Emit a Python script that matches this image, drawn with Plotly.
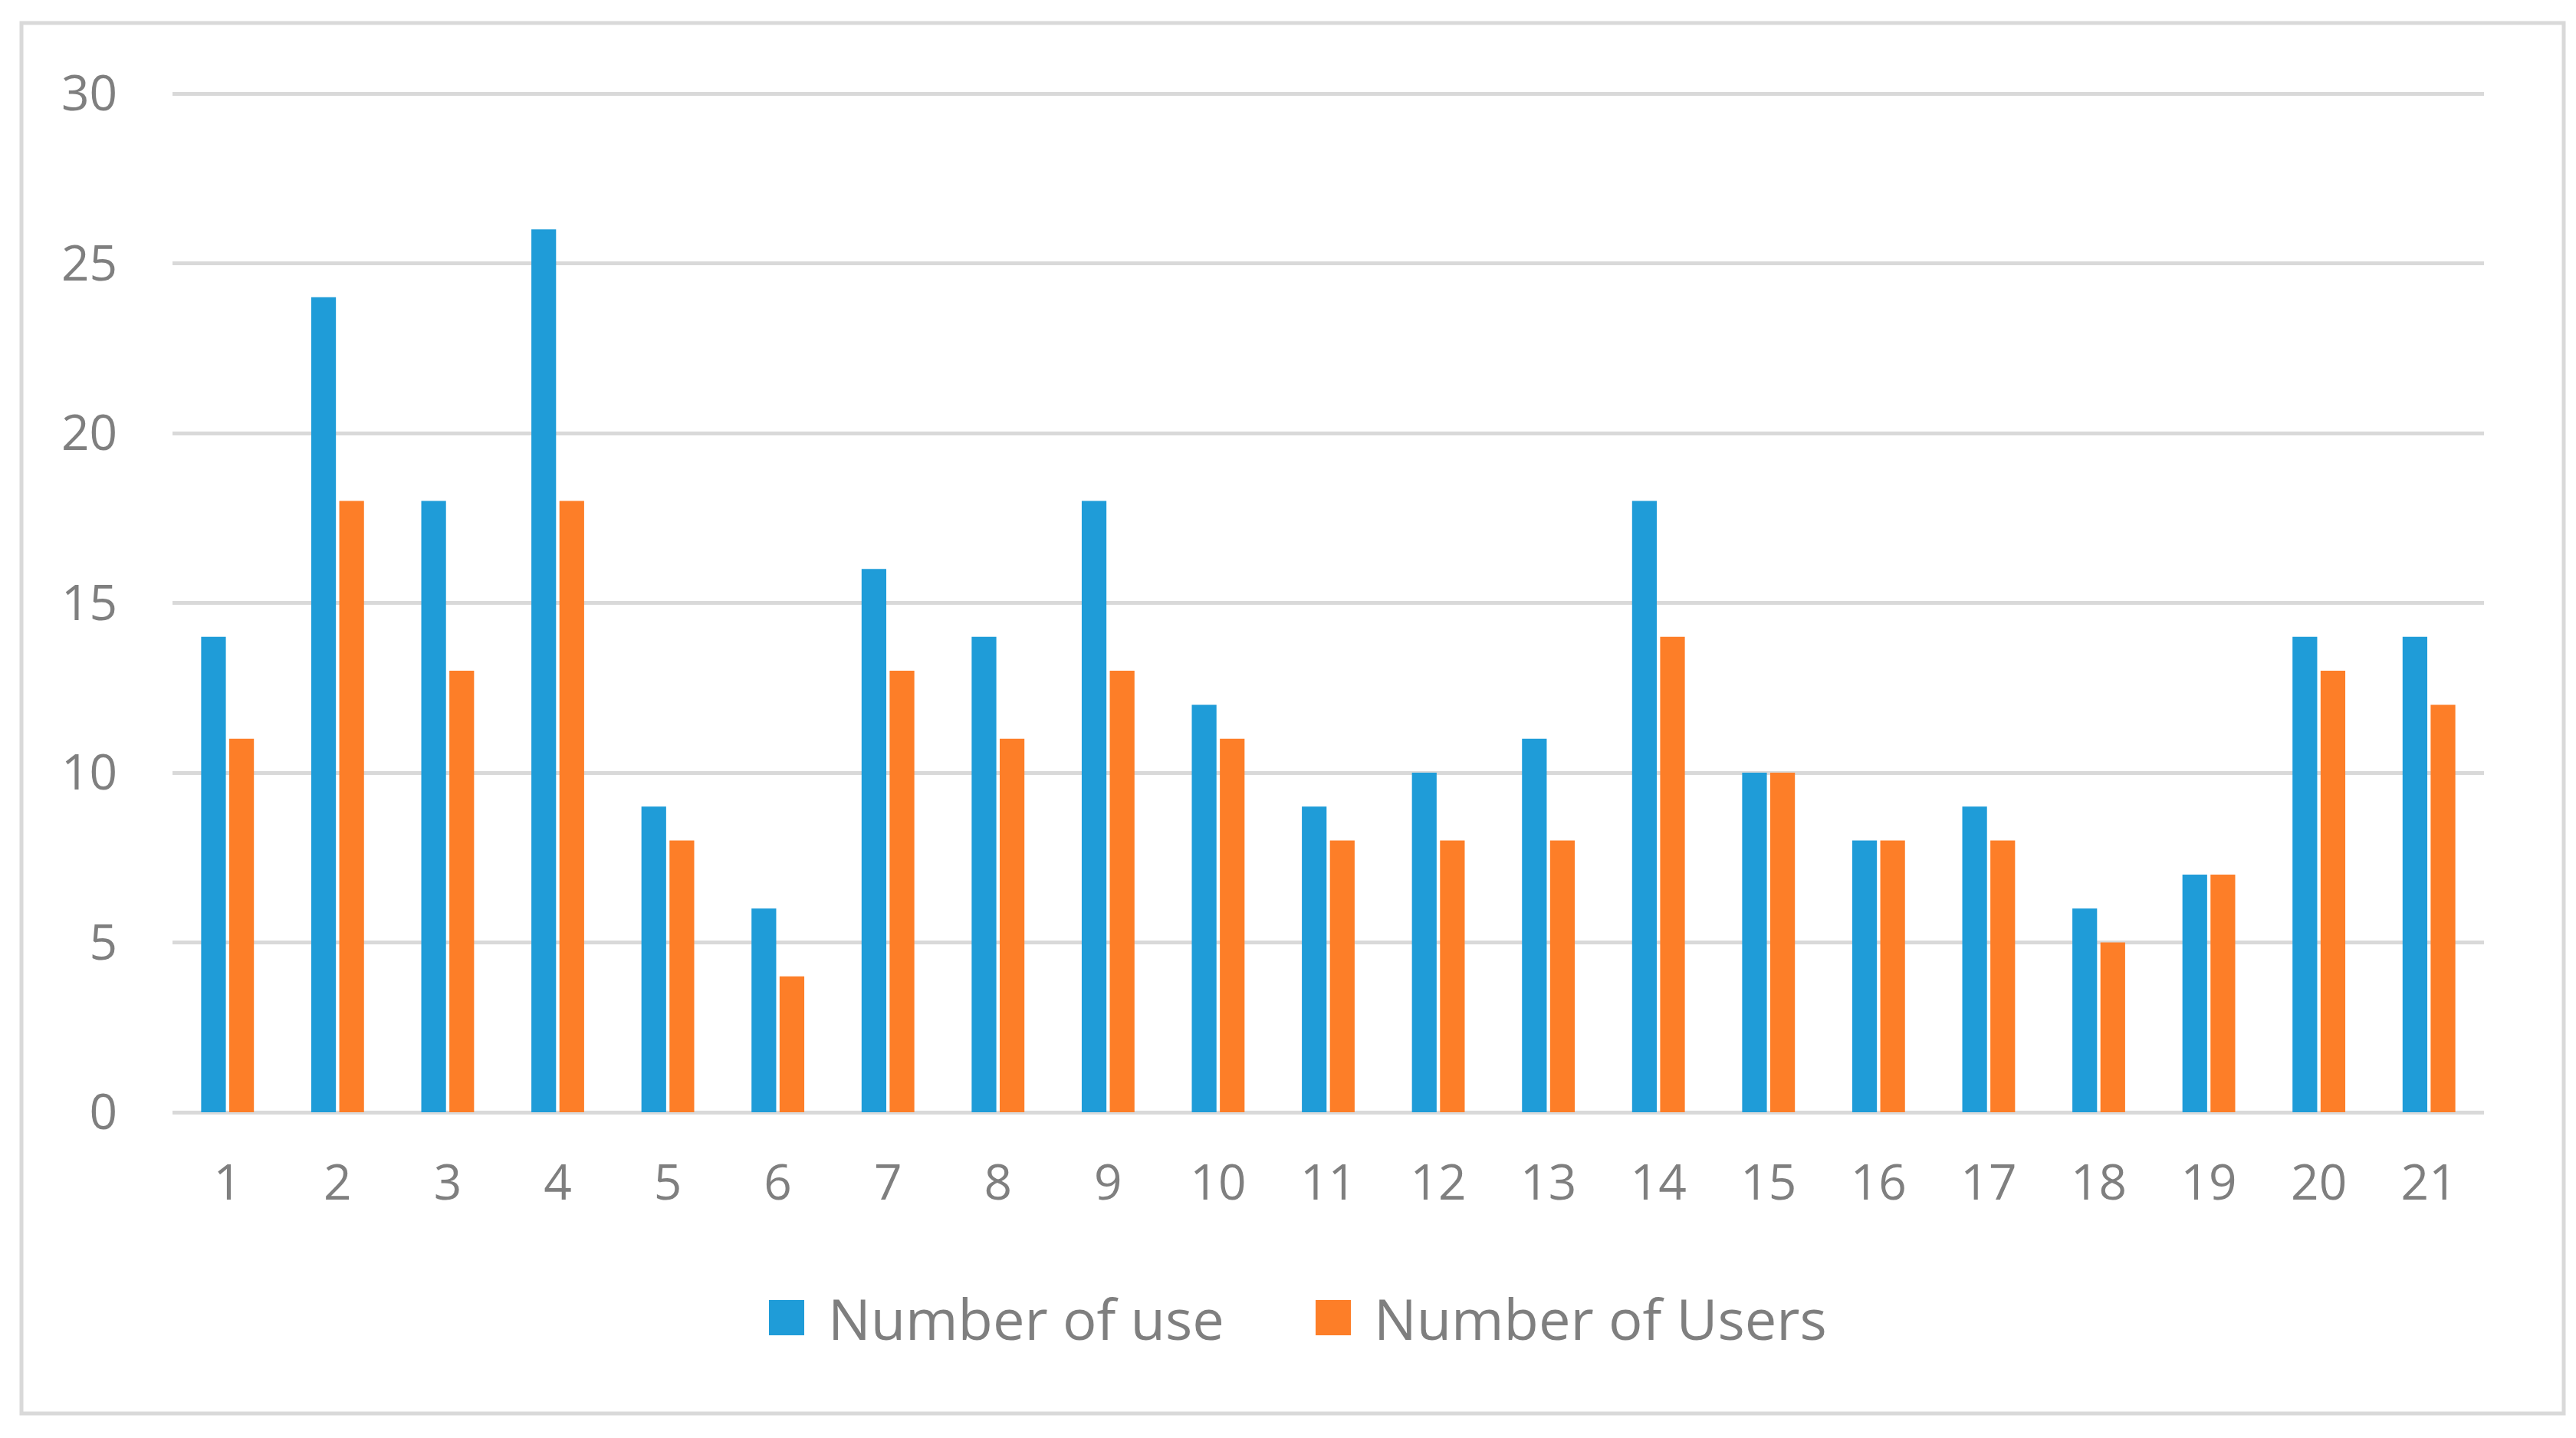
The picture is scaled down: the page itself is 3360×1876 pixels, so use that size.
import plotly.graph_objects as go

# --- data ---
categories = [str(i) for i in range(1, 22)]
number_of_use = [14, 24, 18, 26, 9, 6, 16, 14, 18, 12, 9, 10, 11, 18, 10, 8, 9, 6, 7, 14, 14]
number_of_users = [11, 18, 13, 18, 8, 4, 13, 11, 13, 11, 8, 8, 8, 14, 10, 8, 8, 5, 7, 13, 12]
series_names = ["Number of use", "Number of Users"]
y_ticks = [0, 5, 10, 15, 20, 25, 30]

BLUE = "#1f9cd8"
ORANGE = "#fd7e28"
GRID = "#d9d9d9"
TEXT = "#7f7f7f"
FONT = "Open Sans"

# page has an 8px body margin, so the figure is a bit smaller than the window
OFF = 8
W, H = 3344, 1860


def px(x):
    return (x - OFF) / W


def py(y):
    return 1 - (y - OFF) / H


fig = go.Figure()
fig.add_trace(go.Bar(x=categories, y=number_of_use, name=series_names[0],
                     marker=dict(color=BLUE, line=dict(width=0))))
fig.add_trace(go.Bar(x=categories, y=number_of_users, name=series_names[1],
                     marker=dict(color=ORANGE, line=dict(width=0))))

# custom legend (big swatches like the original)
legend_items = [(series_names[0], BLUE, 1003, 1078), (series_names[1], ORANGE, 1716, 1790)]
for name, col, sx, tx in legend_items:
    fig.add_shape(type="rect", xref="paper", yref="paper",
                  x0=px(sx), x1=px(sx + 46), y0=py(1742), y1=py(1696),
                  fillcolor=col, line=dict(width=0))
    fig.add_annotation(x=px(tx), y=py(1719), xref="paper", yref="paper",
                       text=name, showarrow=False, xanchor="left", yanchor="middle",
                       font=dict(family=FONT, size=74, color=TEXT))

# chart border
fig.add_shape(type="rect", xref="paper", yref="paper",
              x0=px(28), x1=px(3344), y0=py(1844), y1=py(30),
              line=dict(color=GRID, width=5), fillcolor="rgba(0,0,0,0)")

# axis: 0 at y=1451, 30 at y=122 -> extend a touch so the top gridline is kept
Y_TOP = 30.1
top_px = 1451 - Y_TOP * (1451 - 122) / 30

fig.update_layout(
    width=W, height=H,
    margin=dict(l=0, r=0, t=0, b=0, pad=0, autoexpand=False),
    paper_bgcolor="white", plot_bgcolor="white",
    barmode="group", bargap=0.49, bargroupgap=0.12,
    showlegend=False,
    font=dict(family=FONT, color=TEXT),
)
fig.update_xaxes(
    domain=[px(225), px(3240)], automargin=False,
    tickfont=dict(size=64, color=TEXT),
    ticks="outside", ticklen=36, tickcolor="rgba(0,0,0,0)",
    showgrid=False, showline=False,
)
fig.update_yaxes(
    domain=[py(1451), py(top_px)], automargin=False,
    range=[0, Y_TOP], tickvals=y_ticks,
    tickfont=dict(size=64, color=TEXT),
    ticks="outside", ticklen=58, tickcolor="rgba(0,0,0,0)",
    showgrid=True, gridcolor=GRID, gridwidth=5,
    zeroline=True, zerolinecolor=GRID, zerolinewidth=5,
    showline=False,
)

fig.write_html("out.html")
